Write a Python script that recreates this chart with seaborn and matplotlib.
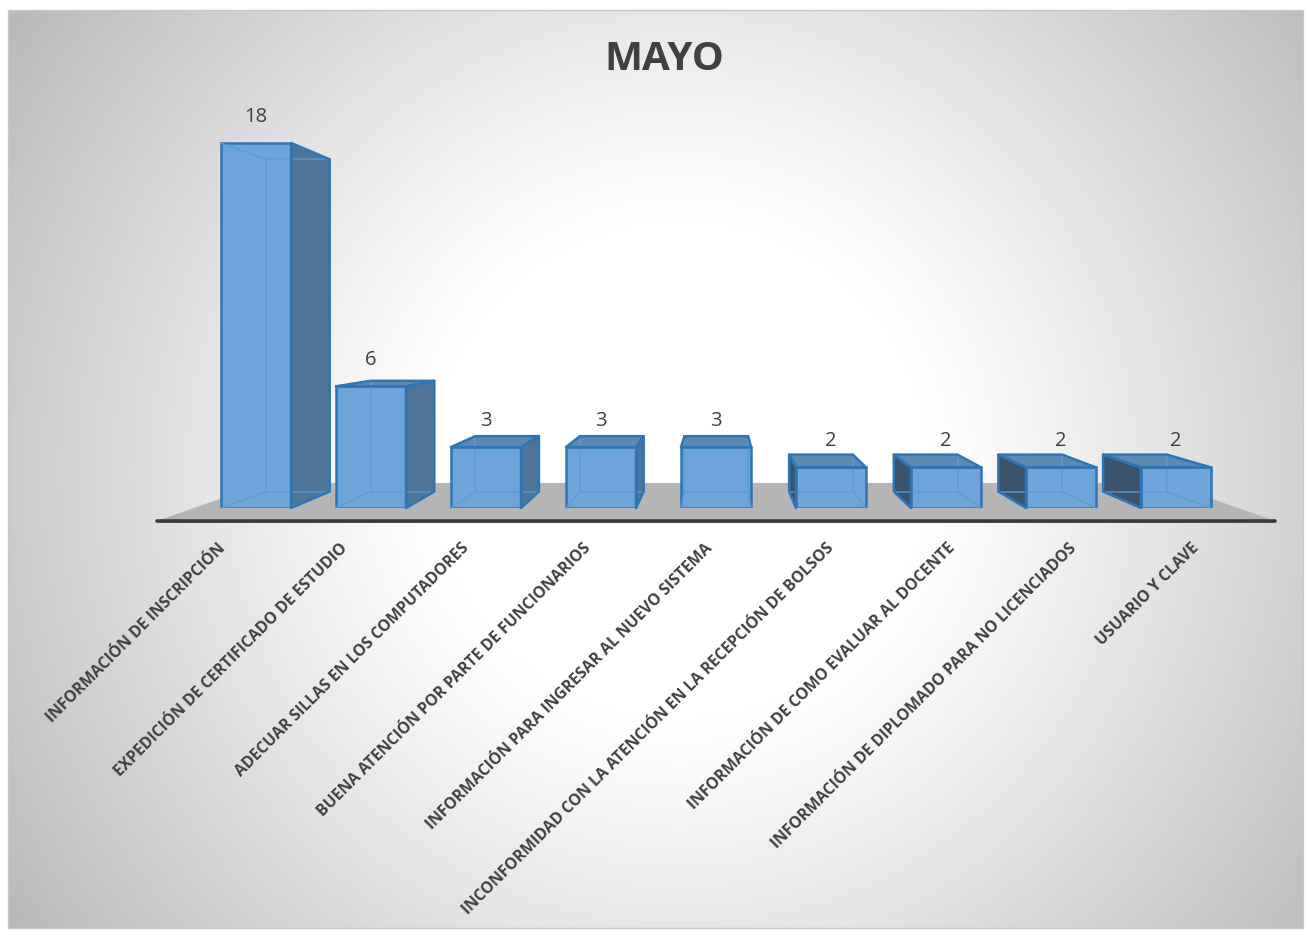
import numpy as np
import matplotlib
matplotlib.use("Agg")
import matplotlib.pyplot as plt
from matplotlib.patches import Polygon, Rectangle
import seaborn as sns

# ---------------- data ----------------
categories = [
    "INFORMACIÓN DE INSCRIPCIÓN",
    "EXPEDICIÓN DE CERTIFICADO DE ESTUDIO",
    "ADECUAR SILLAS EN LOS COMPUTADORES",
    "BUENA ATENCIÓN POR PARTE DE FUNCIONARIOS",
    "INFORMACIÓN PARA INGRESAR AL NUEVO SISTEMA",
    "INCONFORMIDAD CON LA ATENCIÓN EN LA RECEPCIÓN DE BOLSOS",
    "INFORMACIÓN DE COMO EVALUAR AL DOCENTE",
    "INFORMACIÓN DE DIPLOMADO PARA NO LICENCIADOS",
    "USUARIO Y CLAVE",
]
values = [18, 6, 3, 3, 3, 2, 2, 2, 2]
title = "MAYO"

# ---------------- style ----------------
W, H = 1311, 935
sns.set_theme(style="white")
plt.rcParams['font.family'] = ['Open Sans', 'DejaVu Sans']
TXT = '#404040'
FRONT = '#6da4d9'
EDGE = '#2e75b6'
RSIDE = '#4f7497'
LSIDE = '#3b536d'
TOP = '#5c88b2'
HIDDEN = '#5b9bd5'
FLOOR = '#b5b5b5'

fig = plt.figure(figsize=(W / 100, H / 100), dpi=100)
fig.patch.set_facecolor('white')

# background radial gradient (white centre, grey edges)
bx0, by0, bw_, bh_ = 8, 10, 1295, 918   # pixel box (left, top, width, height)
bg = fig.add_axes([bx0 / W, (H - by0 - bh_) / H, bw_ / W, bh_ / H], zorder=0)
ny, nx = bh_ // 2, bw_ // 2
py, px_ = np.mgrid[0:bh_:ny * 1j, 0:bw_:nx * 1j]
r = np.hypot(px_ + bx0 - 680, py + by0 - 470)
s = np.clip((r - 250) / 550, 0, 1)
s = s ** 1.1
val = 1 - 0.27 * s
bg.imshow(np.dstack([val, val, val]), extent=[0, 1, 0, 1], origin='upper',
          aspect='auto', interpolation='bilinear')
bg.set_xlim(0, 1)
bg.set_ylim(0, 1)
bg.axis('off')
bg.add_patch(Rectangle((0, 0), 1, 1, transform=bg.transAxes, fill=False,
                       edgecolor='#c8c8c8', lw=1, clip_on=False))

# main axes (front plane of bars)
XLO, XHI = -0.54, 8.54
YMAX = 20
ax = fig.add_axes([193.9 / W, (H - 508) / H, 1044.2 / W, YMAX * 20.28 / H], zorder=1)
ax.set_facecolor('none')
bw = 0.609
sns.barplot(x=categories, y=values, ax=ax, color=FRONT, saturation=1, width=bw,
            edgecolor=EDGE, linewidth=1.8, zorder=3)
ax.set_xlim(XLO, XHI)
ax.set_ylim(0, YMAX)
ax.set_xticks([])
ax.set_yticks([])
ax.set_xlabel('')
ax.set_ylabel('')
for sp in ax.spines.values():
    sp.set_visible(False)

VP = np.array([720.0, H - 325.0])


def to_disp(pts):
    return ax.transData.transform(np.asarray(pts, dtype=float))


def to_data(pts):
    return ax.transData.inverted().transform(np.asarray(pts, dtype=float))


def persp(P, f):
    P = np.asarray(P, dtype=float)
    return P + f * (VP - P)


# floor
fl = to_disp([(XLO, 0), (XHI, 0)])
f_front, f_back = -0.071, 0.137
floor_pts = [persp(fl[0], f_front), persp(fl[1], f_front),
             persp(fl[1], f_back), persp(fl[0], f_back)]
ax.add_patch(Polygon(to_data(floor_pts), closed=True, facecolor=FLOOR,
                     edgecolor='none', zorder=1, clip_on=False))
edge_line = to_data(floor_pts[:2])
ax.plot(edge_line[:, 0], edge_line[:, 1] - 0.03, color='#9a9a9a', lw=1.5,
        clip_on=False, zorder=1.4, solid_capstyle='round')
ax.plot(edge_line[:, 0], edge_line[:, 1], color='#3a3a3a', lw=2.6,
        clip_on=False, zorder=1.5, solid_capstyle='round')

# 3D sides of bars
hw = bw / 2
fb = 0.09
for i, v in enumerate(values):
    FLb, FRb, FRt, FLt = to_disp([(i - hw, 0), (i + hw, 0), (i + hw, v), (i - hw, v)])
    BLb, BRb, BRt, BLt = [persp(p, fb) for p in (FLb, FRb, FRt, FLt)]
    faces = []
    if FRb[0] < VP[0] - 5:
        faces.append(([FRb, FRt, BRt, BRb], RSIDE))
    if FLb[0] > VP[0] + 5:
        faces.append(([FLb, FLt, BLt, BLb], LSIDE))
    if FLt[1] < VP[1]:
        faces.append(([FLt, FRt, BRt, BLt], TOP))
    for pts, col in faces:
        ax.add_patch(Polygon(to_data(pts), closed=True, facecolor=col,
                             edgecolor='none', zorder=2, clip_on=False))
        ax.add_patch(Polygon(to_data(pts), closed=True, facecolor='none',
                             edgecolor=EDGE, lw=1.8, zorder=4,
                             joinstyle='round', clip_on=False))
    for a, b in [(BLb, BRb), (BLb, BLt), (BRb, BRt), (BLt, BRt),
                 (FLb, BLb), (FRb, BRb), (FLt, BLt), (FRt, BRt)]:
        seg = to_data([a, b])
        ax.plot(seg[:, 0], seg[:, 1], color=HIDDEN, lw=1.1, alpha=0.85,
                zorder=3.5, clip_on=False)

# data labels
for i, v in enumerate(values):
    ax.annotate(str(v), (i, v), xytext=(0, 18.7), textcoords='offset points',
                ha='center', va='center', fontsize=14.5, color=TXT, zorder=6)

# category labels along the front edge of the floor
for i, lab in enumerate(categories):
    p = to_disp([(i, 0)])[0]
    anchor = np.array([1.0574 * p[0] - 0.0574 * VP[0] - 6, H - 546.0])
    a = to_data([anchor])[0]
    ax.text(a[0], a[1], lab, rotation=45, ha='right', va='center',
            rotation_mode='anchor', fontsize=11.3, fontweight='bold',
            color=TXT, clip_on=False, zorder=6)

fig.text(664 / W, 1 - 60 / H, title, ha='center', va='center', fontsize=29,
         fontweight='bold', color=TXT)

fig.savefig('out.png', dpi=100, facecolor='white')
